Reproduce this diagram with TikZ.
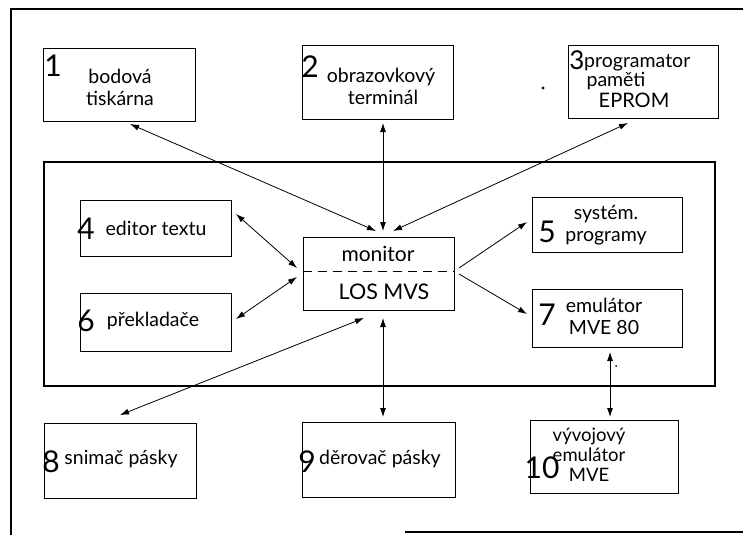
\documentclass[tikz,border=0pt]{standalone}
\usepackage{fontspec}
\setmainfont{Lato}
\usetikzlibrary{arrows.meta}
\begin{document}
\begin{tikzpicture}[x=1pt,y=-1pt,
  box/.style={draw,line width=0.8pt,inner sep=0pt},
  txt/.style={inner sep=0pt,font=\fontsize{19.5}{22}\selectfont,align=center},
  num/.style={inner sep=0pt,font=\fontsize{30}{30}\selectfont},
  con/.style={line width=0.8pt,{Latex[length=9pt,width=6pt]}-{Latex[length=9pt,width=6pt]}},
  con1/.style={line width=0.8pt,-{Latex[length=9pt,width=6pt]}}]
\useasboundingbox (0,0) rectangle (743,535);
% outer frame (partial, as printed)
\draw[line width=1.4pt] (11,535) -- (11,9) -- (743,9);
\draw[line width=1.4pt] (405,532) -- (743,532);
% inner frame
\node[draw,line width=2.4pt,minimum width=671pt,minimum height=224pt] (inner) at (379.5,274) {};
% boxes
\node[box,minimum width=152pt,minimum height=73pt] (b1) at (119,84.5) {};
\node[box,minimum width=151pt,minimum height=74pt] (b2) at (377.5,82) {};
\node[box,minimum width=150pt,minimum height=73pt] (b3) at (643,81.5) {};
\node[box,minimum width=151pt,minimum height=56pt] (b4) at (155.5,228) {};
\node[box,minimum width=151pt,minimum height=58pt] (b6) at (155.5,322) {};
\node[box,minimum width=150pt,minimum height=55pt] (b5) at (607,224.5) {};
\node[box,minimum width=150pt,minimum height=58pt] (b7) at (607,318) {};
\node[box,minimum width=151pt,minimum height=73pt] (mon) at (378.5,273.5) {};
\node[box,minimum width=152pt,minimum height=75pt] (b8) at (120,460.5) {};
\node[box,minimum width=153pt,minimum height=75pt] (b9) at (378.5,459.5) {};
\node[box,minimum width=148pt,minimum height=73pt] (b10) at (604,456.5) {};
\draw[line width=0.8pt,dash pattern=on 9pt off 6pt] (mon.west |- 0,271) -- (mon.east |- 0,271);
% numbers
\node[num] (n1) at (53,66) {1};
\node[num] (n2) at (310,67) {2};
\node[num,font=\fontsize{26}{26}\selectfont] (n3) at (577,60) {3};
\node[num] (n4) at (86,229) {4};
\node[num] (n6) at (86,321) {6};
\node[num] (n5) at (547,232) {5};
\node[num] (n7) at (547,315) {7};
\node[num] (n8) at (51,462) {8};
\node[num] (n9) at (307,462) {9};
\node[num] (n10) at (542,468) {10};
% texts
\node[txt] (t1) at (120,87) {bodová\\tiskárna};
\node[txt] (t2) at (381,86) {obrazovkový\\\hspace*{4pt}terminál};
\node[txt,anchor=west] (t3a) at (584,63) {programator};
\node[txt] (t3b) at (616,81) {paměti};
\node[txt,font=\fontsize{20}{22}\selectfont] (t3c) at (634,100) {EPROM};
\node[txt] (t4) at (156,228) {editor textu};
\node[txt] (t6) at (153,321) {překladače};
\node[txt] (t5) at (606,225) {systém.\\programy};
\node[txt] (t7) at (604,316) {emulátor\\MVE 80};
\node[txt,font=\fontsize{21}{23}\selectfont] (tm1) at (378,254) {monitor};
\node[txt,font=\fontsize{21.5}{23}\selectfont] (tm2) at (384,292) {LOS MVS};
\node[txt] (t8) at (121,459) {snimač pásky};
\node[txt] (t9) at (380,459) {děrovač pásky};
\node[txt,font=\fontsize{18.5}{20}\selectfont] (t10) at (589,455) {vývojový\\emulátor\\MVE};
% connector end points
\coordinate (p1a) at (130,124);  \coordinate (p1b) at (376,231);
\coordinate (p2a) at (383,123);  \coordinate (p2b) at (383,231);
\coordinate (p3a) at (628,123);  \coordinate (p3b) at (393,231);
\coordinate (p4a) at (236,214);  \coordinate (p4b) at (297,268);
\coordinate (p6a) at (236,319);  \coordinate (p6b) at (297,277);
\coordinate (p5a) at (459,268);  \coordinate (p5b) at (527,222);
\coordinate (p7a) at (459,274);  \coordinate (p7b) at (527,314);
\coordinate (p8a) at (364,318);  \coordinate (p8b) at (120,415);
\coordinate (p9a) at (383,318);  \coordinate (p9b) at (383,417);
\coordinate (p10a) at (610,352); \coordinate (p10b) at (610,417);
\draw[con] (p1a) -- (p1b);
\draw[con] (p2a) -- (p2b);
\draw[con] (p3a) -- (p3b);
\draw[con] (p4a) -- (p4b);
\draw[con] (p6a) -- (p6b);
\draw[con1] (p5a) -- (p5b);
\draw[con1] (p7a) -- (p7b);
\draw[con] (p8a) -- (p8b);
\draw[con] (p9a) -- (p9b);
\draw[con] (p10a) -- (p10b);
% specks printed in the original
\fill (543,88) circle (1.6pt);
\fill (616,366) circle (1pt);
\end{tikzpicture}
\end{document}
